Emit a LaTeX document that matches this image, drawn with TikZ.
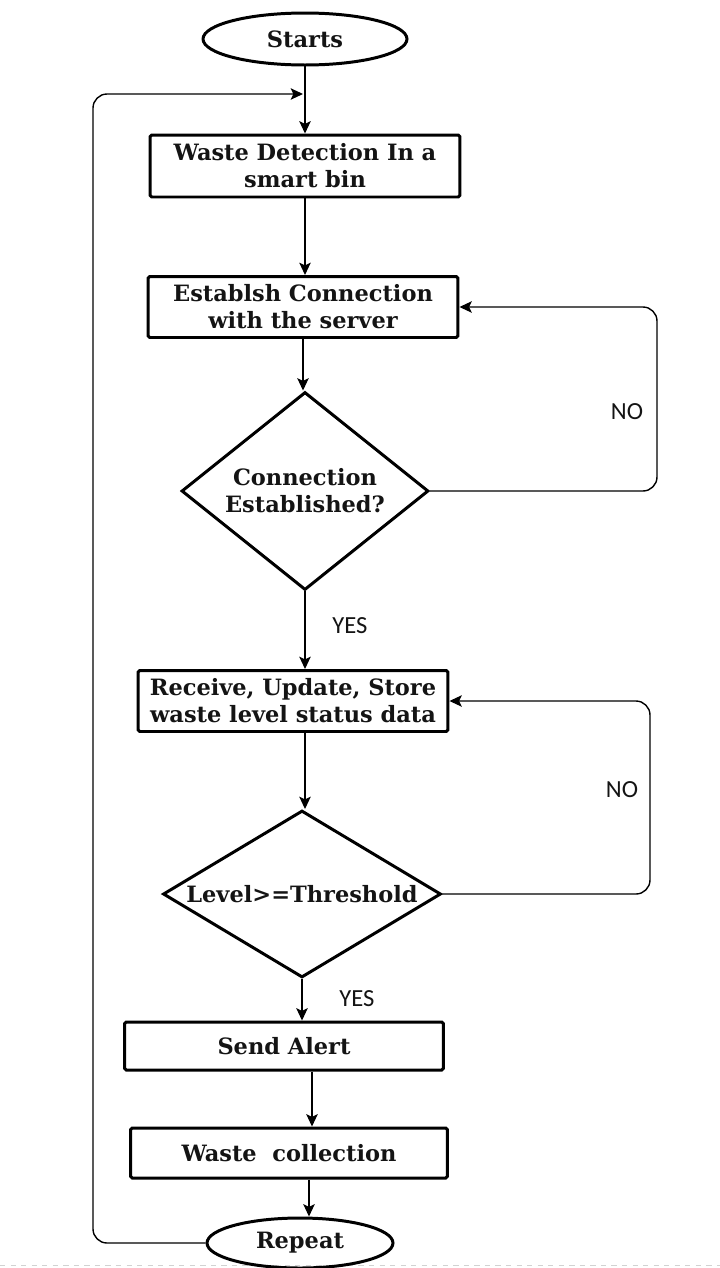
\documentclass[tikz,border=0pt]{standalone}
\usepackage{fontspec}
\setmainfont{DejaVu Serif}
\newfontfamily\labelfont{Carlito}
\usetikzlibrary{shapes.geometric,arrows.meta}
\begin{document}
\begin{tikzpicture}[x=0.02cm,y=-0.02cm,
 every node/.style={font=\fontsize{12.8}{15.4}\selectfont\bfseries, text=black!92},
 procbox/.style={draw, line width=1.7pt, rectangle, rounded corners=1pt, align=center, inner sep=0pt},
 term/.style={draw, line width=1.7pt, ellipse, inner sep=0pt},
 decide/.style={draw, line width=1.7pt, diamond, inner sep=0pt, align=center},
 conn/.style={line width=0.8pt, -{Stealth[length=7pt,width=6.5pt,inset=1.5pt]}},
 loopline/.style={conn, rounded corners=8pt},
 yn/.style={font=\labelfont\fontsize{14}{16}\selectfont}
]
\fill[white] (0,0) rectangle (720,1268);
\useasboundingbox (0,0) rectangle (720,1268);
\draw[gray!35, dashed, line width=0.4pt] (0,1265) -- (720,1265);

\node[term, minimum width=4.08cm, minimum height=1.04cm] (start) at (305,39) {Starts};
\node[procbox, minimum width=6.2cm, minimum height=1.24cm] (b1) at (305,166) {Waste Detection In a\\smart bin};
\node[procbox, minimum width=6.2cm, minimum height=1.22cm] (b2) at (303,307) {Establsh Connection\\with the server};
\node[decide, aspect=1.25, minimum width=4.94cm, minimum height=3.96cm] (d1) at (305,491) {Connection\\Established?};
\node[procbox, minimum width=6.2cm, minimum height=1.22cm] (b3) at (293,701) {Receive, Update, Store\\waste level status data};
\node[decide, aspect=1.66, minimum width=5.56cm, minimum height=3.34cm] (d2) at (302,894) {Level>=Threshold};
\node[procbox, minimum width=6.38cm, minimum height=0.96cm] (b4) at (284,1046) {Send Alert};
\node[procbox, minimum width=6.34cm, minimum height=1.0cm] (b5) at (289,1153) {Waste\ \ collection};
\node[term, minimum width=3.72cm, minimum height=1.0cm] (rep) at (300,1243) {Repeat};

\coordinate (j) at (303,94);
\coordinate (lc) at (93,1243);
\coordinate (lt) at (93,94);
\coordinate (r1b) at (657,491);
\coordinate (r1t) at (657,307);
\coordinate (r2b) at (650,894);
\coordinate (r2t) at (650,701);

\draw[conn] (start.south) -- (start.south |- b1.north);
\draw[conn] (b1.south) -- (b1.south |- b2.north);
\draw[conn] (b2.south) -- (b2.south |- d1.north);
\draw[conn] (d1.south) -- (d1.south |- b3.north);
\draw[conn] ([xshift=0.24cm]b3.south) -- ([xshift=0.24cm]b3.south |- d2.north);
\draw[conn] (d2.south) -- (d2.south |- b4.north);
\draw[conn] ([xshift=0.56cm]b4.south) -- ([xshift=0.56cm]b4.south |- b5.north);
\draw[conn] ([xshift=0.4cm]b5.south) -- ([xshift=0.4cm]b5.south |- rep.north);

\draw[loopline] (rep.west) -- (lc) -- (lt) -- (j);
\draw[loopline] (d1.east) -- (r1b) -- (r1t) -- (b2.east);
\draw[loopline] (d2.east) -- (r2b) -- (r2t) -- (b3.east);

\node[yn] (no1) at (627,412) {NO};
\node[yn] (yes1) at (350,626) {YES};
\node[yn] (no2) at (622,790) {NO};
\node[yn] (yes2) at (357,999) {YES};
\end{tikzpicture}
\end{document}
